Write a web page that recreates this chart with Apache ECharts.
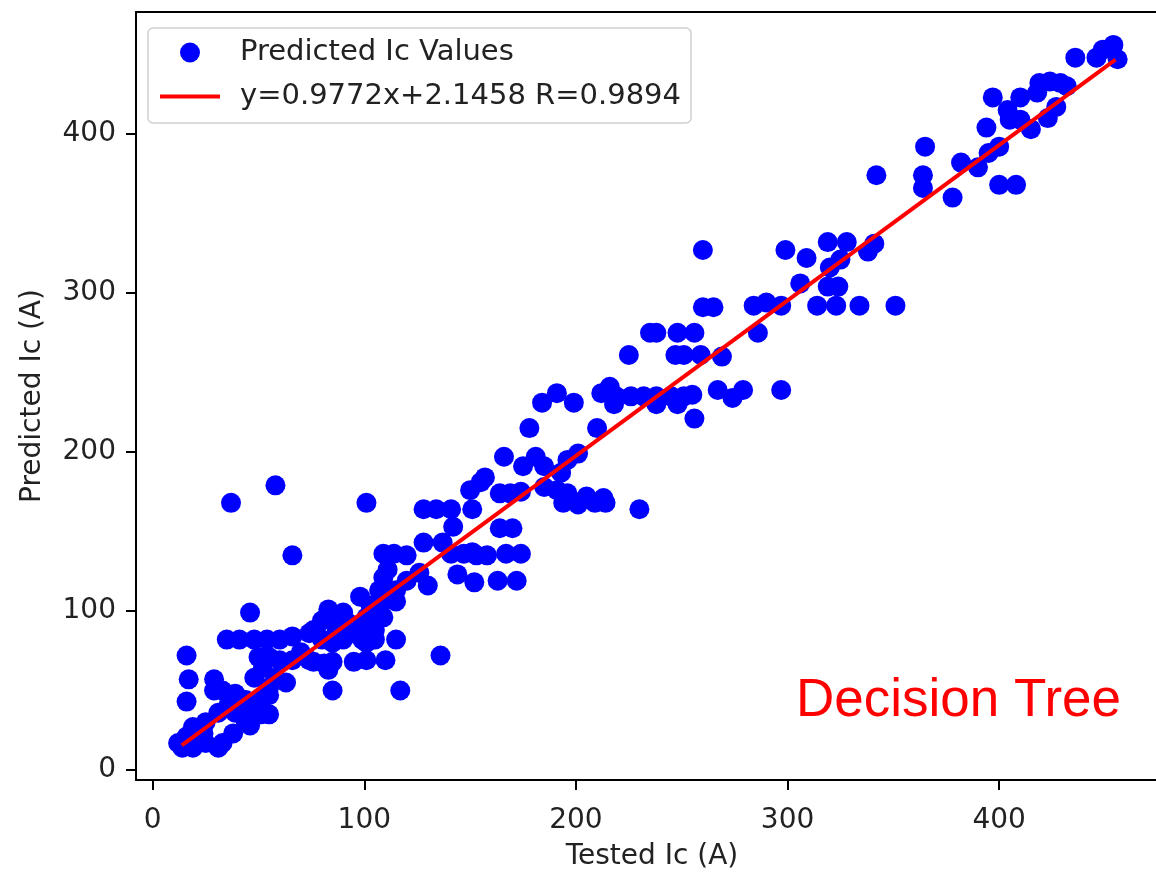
<!DOCTYPE html>
<html>
<head>
<meta charset="utf-8">
<title>Decision Tree - Tested vs Predicted Ic</title>
<script src="https://cdn.jsdelivr.net/npm/echarts@6/dist/echarts.min.js"></script>
<style>
  html, body { margin: 0; padding: 0; background: #fff; }
  #chart { width: 1156px; height: 872px; }
</style>
</head>
<body>
<div id="chart"></div>
<script>
// tested Ic (A) and predicted Ic (A)
const testedIc = [
  454, 449, 446, 456, 436, 419, 424, 429, 432, 397, 410, 418, 427, 423, 415, 410, 404, 405, 394, 400,
  395, 390, 382, 365, 342, 364, 364, 378, 400, 408,
  299, 309, 319, 328, 325, 320, 306, 341, 338, 319, 324, 314, 323, 334, 351,
  260, 260, 265, 284, 290, 297, 235, 238, 248, 256, 286, 225, 247, 251, 259, 269,
  212, 216, 219, 226, 232, 238, 245, 251, 255, 218, 238, 248, 267, 274, 279, 297, 256,
  184, 191, 199, 178, 210, 166, 157, 150, 181, 175, 185, 201, 196, 193, 169, 185, 191, 196, 205, 213,
  194, 201, 209, 214, 230,
  37, 58, 101, 66, 46, 128, 134, 141, 151, 142, 128, 137, 109, 114, 120, 141, 147, 153, 158, 164,
  170, 164, 174, 167, 174, 144, 152, 163, 172, 109, 111, 120, 130, 126, 115, 111, 106, 98, 109, 103,
  84, 90, 80, 93, 99, 87, 35, 41, 48, 54, 60, 66, 74, 80, 90, 99, 105, 115, 16, 136,
  17, 16, 29, 29, 55, 50, 55, 60, 66, 52, 48, 58, 63, 55, 76, 83, 81, 74, 83, 33,
  39, 44, 36, 31, 39, 44, 38, 33, 25, 24, 19, 16, 12, 14, 19, 31, 25, 47, 42, 85,
  155, 151, 107, 115, 101, 105, 95, 85, 101, 70, 76, 85, 95, 101, 110, 117,
  51, 55, 46, 51
];
const predictedIc = [
  456, 453, 448, 447, 448, 432, 433, 432, 430, 423, 423, 426, 417, 410, 403, 409, 415, 409, 404, 392,
  388, 379, 382, 392, 374, 374, 366, 360, 368, 368,
  327, 322, 332, 332, 321, 316, 306, 331, 326, 304, 304, 292, 292, 292, 292,
  327, 291, 291, 292, 294, 292, 275, 275, 275, 275, 275, 261, 261, 261, 261, 260,
  237, 241, 235, 235, 235, 235, 235, 235, 236, 230, 230, 230, 239, 234, 239, 239, 221,
  231, 237, 231, 215, 215, 197, 184, 176, 197, 191, 191, 199, 195, 187, 174, 178, 176, 174, 172, 171,
  168, 167, 168, 168, 164,
  168, 179, 168, 135, 99, 164, 164, 164, 164, 153, 143, 143, 136, 136, 135, 136, 136, 135, 135, 152,
  152, 174, 175, 136, 136, 123, 118, 119, 119, 121, 126, 119, 116, 124, 113, 107, 105, 109, 96, 103,
  99, 99, 94, 92, 90, 88, 82, 82, 82, 82, 82, 84, 86, 82, 82, 82, 82, 82, 72, 72,
  57, 43, 57, 50, 35, 71, 71, 69, 69, 64, 58, 58, 55, 52, 88, 101, 67, 69, 63, 50,
  48, 44, 42, 36, 36, 30, 23, 17, 30, 23, 27, 21, 17, 14, 14, 14, 17, 36, 40, 50,
  181, 137, 113, 106, 96, 88, 86, 80, 80, 74, 68, 68, 68, 69, 69, 50,
  44, 47, 28, 35
];

// end points of the fitted line shown in the legend
const fitX = [13.7, 455];
const fitY = [15.5, 446.8];

const xTicks = [0, 100, 200, 300, 400];
const yTicks = [0, 100, 200, 300, 400];

const scatterName = 'Predicted Ic Values';
const fitName = 'y=0.9772x+2.1458 R=0.9894';

const chart = echarts.init(document.getElementById('chart'), null, { renderer: 'canvas' });

const font = 'DejaVu Sans';
const spine = { color: '#000', width: 2 };

chart.setOption({
  backgroundColor: '#fff',
  animation: false,
  textStyle: { fontFamily: font },
  // the plot runs past the right edge of the picture, so no right spine is seen
  grid: { left: 136, top: 12, width: 1032, height: 768, outerBoundsMode: 'none' },
  title: {
    text: 'Decision Tree',
    left: 796,
    top: 675,
    padding: 0,
    textStyle: { color: '#ff0000', fontSize: 53, fontWeight: 'normal', fontFamily: 'Liberation Sans' }
  },
  legend: {
    orient: 'vertical',
    left: 148,
    top: 28,
    padding: [10, 10, 12, 12],
    itemWidth: 60,
    itemHeight: 20,
    itemGap: 15,
    borderColor: '#d0d0d0',
    borderWidth: 1.5,
    borderRadius: 5,
    backgroundColor: 'rgba(255,255,255,0.8)',
    textStyle: { fontSize: 29, color: '#222', fontFamily: font, padding: [0, 0, 0, 15] },
    data: [
      { name: scatterName, icon: 'circle' },
      { name: fitName, icon: 'path://M0,0L60,0L60,4L0,4Z' }
    ]
  },
  xAxis: [
    {
      type: 'value',
      min: -7.9,
      max: 479.8,
      name: 'Tested Ic (A)',
      nameLocation: 'middle',
      nameGap: 63,
      nameTextStyle: { fontSize: 28, color: '#222', fontFamily: font },
      axisLine: { show: true, onZero: false, lineStyle: spine },
      axisTick: { show: true, length: 10, lineStyle: spine, customValues: xTicks },
      axisLabel: { margin: 27, fontSize: 28, color: '#222', customValues: xTicks },
      splitLine: { show: false }
    },
    {
      // top spine only
      type: 'value',
      position: 'top',
      min: -7.9,
      max: 479.8,
      axisLine: { show: true, onZero: false, lineStyle: spine },
      axisTick: { show: false },
      axisLabel: { show: false },
      splitLine: { show: false }
    }
  ],
  yAxis: {
    type: 'value',
    min: -6.3,
    max: 476.7,
    name: 'Predicted Ic (A)',
    nameLocation: 'middle',
    nameGap: 89,
    nameTextStyle: { fontSize: 28, color: '#222', fontFamily: font },
    axisLine: { show: true, onZero: false, lineStyle: spine },
    axisTick: { show: true, length: 10, lineStyle: spine, customValues: yTicks },
    axisLabel: { margin: 20, fontSize: 28, color: '#222', customValues: yTicks },
    splitLine: { show: false }
  },
  series: [
    {
      name: scatterName,
      type: 'scatter',
      symbol: 'circle',
      symbolSize: 20,
      itemStyle: { color: '#0000ff', opacity: 1 },
      data: testedIc.map((v, i) => [v, predictedIc[i]])
    },
    {
      name: fitName,
      type: 'line',
      showSymbol: false,
      lineStyle: { color: '#ff0000', width: 4 },
      itemStyle: { color: '#ff0000' },
      data: fitX.map((v, i) => [v, fitY[i]]),
      z: 3
    }
  ]
});
</script>
</body>
</html>
